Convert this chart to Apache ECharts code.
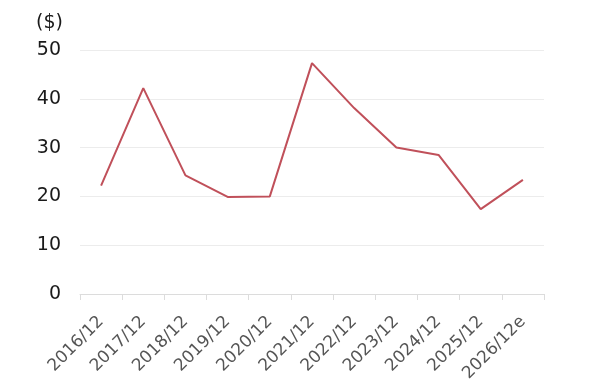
<!DOCTYPE html>
<html><head><meta charset="utf-8">
<script src="https://cdn.jsdelivr.net/npm/echarts@6/dist/echarts.min.js"></script>
<style>html,body{margin:0;padding:0;background:#fff}#c{width:600px;height:390px}</style>
</head><body><div id="c"></div>
<script>
const categories = ['2016/12','2017/12','2018/12','2019/12','2020/12','2021/12','2022/12','2023/12','2024/12','2025/12','2026/12e'];
const values = [22.2, 42.2, 24.3, 19.9, 20.0, 47.3, 38.1, 30.0, 28.5, 17.4, 23.4];
const yTicks = [0, 10, 20, 30, 40, 50];
const unitLabel = '($)';

const chart = echarts.init(document.getElementById('c'), null, {renderer:'canvas'});
chart.setOption({
  animation: false,
  backgroundColor: '#fff',
  grid: {left: 80, right: 56, top: 50, bottom: 96},
  graphic: [{type:'text', left: 36, top: 14, style:{text: unitLabel, fontFamily:'DejaVu Sans', fontSize:19, fill:'#1a1a1a'}}],
  xAxis: {
    type: 'category', data: categories, boundaryGap: true,
    axisLine: {lineStyle:{color:'#dcdcdc', width:1}},
    axisTick: {show:true, length:6, lineStyle:{color:'#dcdcdc'}},
    axisLabel: {rotate: 45, fontFamily:'DejaVu Sans', fontSize:17, color:'#555', margin: 25, interval: 0}
  },
  yAxis: {
    type: 'value', min: yTicks[0], max: yTicks[yTicks.length-1], interval: 10,
    axisLine: {show:false}, axisTick: {show:false},
    splitLine: {lineStyle:{color:'#ececec', width:1}},
    axisLabel: {fontFamily:'DejaVu Sans', fontSize:19, color:'#1a1a1a', margin: 19}
  },
  series: [{
    type: 'line', data: values, symbol: 'none',
    lineStyle: {color:'#c0505a', width:2}
  }]
});
</script></body></html>
